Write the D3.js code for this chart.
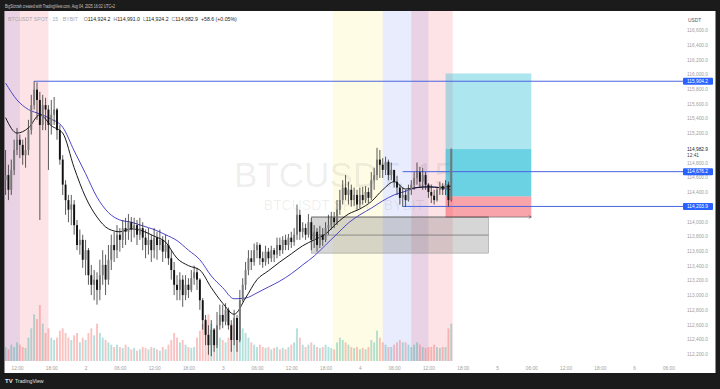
<!DOCTYPE html>
<html>
<head>
<meta charset="utf-8">
<script src="https://cdn.jsdelivr.net/npm/d3@7/dist/d3.min.js"></script>
<style>
  html, body { margin: 0; padding: 0; background: #1b1b1b; }
  svg { display: block; font-family: "Liberation Sans", Arial, sans-serif; }
</style>
</head>
<body>
<svg id="chart" width="720" height="389"></svg>
<script>
// ---- data (30 min candles, BTCUSDT spot, times in chart timezone) ----
const firstCandle = '2025-08-01T10:00:00Z';
const candleMinutes = 30;
const firstOpen = 114560;
const closes = [
  114630,114430,114700,114970,115110,115040,114900,114970,115240,115580,
  115790,115650,115310,115580,115520,115310,115450,115520,115240,114840,
  114500,114290,114160,114230,113950,113680,113750,113480,113610,113270,
  113140,113210,113070,113270,113410,113210,113480,113680,113610,113820,
  113750,113910,113860,113990,113890,113950,113820,113910,113780,113680,
  113750,113610,113780,113680,113750,113590,113680,113500,113340,113140,
  113070,113210,113000,113140,113070,113230,113310,113210,112930,112660,
  112460,112320,112530,112320,112590,112730,112640,112800,112590,112390,
  112690,112390,112930,113140,113340,113500,113450,113610,113680,113500,
  113450,113590,113500,113610,113550,113680,113610,113750,113680,113780,
  113720,113820,114090,113860,113910,113820,113990,113750,113860,113680,
  113820,113750,113910,113950,114050,113990,114160,114290,114460,114360,
  114430,114290,114360,114230,114360,114290,114400,114320,114560,114630,
  114840,114770,114700,114810,114630,114700,114540,114460,114320,114360,
  114290,114430,114500,114590,114670,114540,114630,114500,114400,114350,
  114290,114430,114480,114430,114500,114290,114982.9
];
const highs = [
  114970,114770,114840,115110,115270,115180,115110,115140,115380,115720,
  115904.2,115890,115760,115720,115680,115580,115650,115690,115540,115310,
  114900,114560,114360,114360,114290,114020,113890,113820,113750,113640,
  113410,113340,113310,113480,113610,113550,113680,113820,113860,113950,
  113910,114020,114050,114100,114060,114050,114020,114050,113990,113890,
  113910,113820,113910,113860,113890,113800,113820,113750,113610,113450,
  113270,113310,113270,113270,113230,113340,113400,113370,113230,112960,
  112730,112590,112660,112550,112770,112870,112870,112890,112830,112660,
  112800,112730,113070,113230,113450,113610,113610,113700,113720,113700,
  113590,113670,113640,113670,113640,113780,113780,113800,113820,113830,
  113860,113910,114230,114160,113990,113970,114100,114050,113950,113910,
  113940,113910,113990,114090,114130,114130,114290,114430,114560,114630,
  114540,114500,114460,114430,114460,114470,114480,114460,114670,114730,
  115000,114970,114860,114880,114840,114800,114700,114620,114500,114460,
  114430,114500,114560,114670,114800,114740,114730,114670,114520,114500,
  114430,114470,114540,114520,114560,114540,114991
];
const lows = [
  114360,114290,114360,114630,114900,114860,114770,114730,114900,115180,
  115520,115380,114020,115240,115240,114700,115180,115310,115110,114770,
  114360,114090,113990,113950,113820,113610,113550,113370,113270,113140,
  113000,112930,112870,112930,113140,113000,113140,113340,113450,113500,
  113590,113640,113680,113750,113720,113780,113680,113750,113610,113500,
  113550,113450,113500,113480,113610,113450,113500,113410,113210,113000,
  112930,112930,112840,112930,112960,113040,113140,113070,112800,112530,
  112320,112190,112170,112230,112280,112530,112550,112590,112530,112230,
  112320,112230,112360,112910,113070,113270,113340,113400,113500,113410,
  113370,113400,113420,113450,113450,113500,113530,113560,113610,113610,
  113640,113670,113750,113750,113780,113750,113780,113610,113640,113590,
  113640,113670,113720,113820,113890,113910,113950,114090,114230,114290,
  114230,114200,114210,114160,114180,114230,114250,114250,114290,114430,
  114560,114590,114590,114630,114560,114560,114460,114360,114230,114200,
  114200,114270,114360,114430,114500,114460,114430,114430,114320,114250,
  114230,114270,114360,114360,114360,114203.9,114270
];
const volumes = [
  300,250,350,300,400,350,300,280,500,700,
  1000,900,1200,800,600,700,500,450,500,650,
  700,600,500,450,550,600,400,500,450,600,
  700,550,800,600,500,450,400,350,300,350,
  300,280,350,300,250,280,220,250,300,280,
  250,300,280,250,220,300,250,350,450,600,
  500,400,450,350,300,280,300,500,650,800,
  900,1000,800,700,600,500,450,400,500,800,
  700,900,1100,700,600,500,400,350,300,350,
  300,280,300,250,280,300,250,280,250,300,
  350,400,700,500,350,300,350,400,350,300,
  280,300,350,300,280,250,400,500,450,400,
  350,300,280,300,250,280,250,300,450,400,
  650,500,400,350,300,300,350,400,450,400,
  400,350,300,350,400,350,300,280,300,300,
  350,300,280,300,300,700,800
];

// moving averages read every 2 hours from the first candle
const maStepHours = 2;
const emaFast = [
  115410,115200,115270,115450,115300,115200,114730,114330,114060,113900,
  113860,113900,113870,113800,113720,113500,113400,113340,113100,112890,
  112740,112960,113210,113330,113450,113560,113670,113750,113830,113980,
  114100,114170,114270,114430,114540,114440,114460,114470,114460,114480
];
const emaSlow = [
  115880,115650,115520,115460,115390,115280,114960,114650,114330,114120,
  114020,113990,113940,113890,113820,113740,113610,113480,113260,113100,
  112950,112960,113030,113110,113190,113290,113410,113530,113680,113830,
  113980,114090,114180,114280,114360,114410,114460,114470,114460,114430
];

// session highlights
const sessionStarts = ['2025-08-01T04:00:00Z','2025-08-01T09:00:00Z','2025-08-03T19:15:00Z','2025-08-04T04:00:00Z','2025-08-04T09:00:00Z'];
const sessionEnds   = ['2025-08-01T12:30:00Z','2025-08-01T17:30:00Z','2025-08-04T04:00:00Z','2025-08-04T12:00:00Z','2025-08-04T16:15:00Z'];
const sessionKinds  = ['london','newyork','asia','london','newyork'];

// horizontal levels
const levelPrices = [115904.2, 114676.2, 114203.9];
const levelStarts = ['2025-08-01T15:00:00Z','2025-08-04T07:30:00Z','2025-08-04T07:30:00Z'];

// long position tool
const posFrom = '2025-08-04T15:00:00Z', posTo = '2025-08-05T06:00:00Z';
const posEntry = 114340, posStop = 114060, posTarget = 116010, lastPrice = 114982.9;

// grey zone boxes
const boxFrom = '2025-08-03T15:30:00Z', boxTo = '2025-08-04T22:30:00Z';
const boxTop = 114060, boxMid = 113815, boxBottom = 113570;

const priceTicks = d3.range(112200, 116601, 200);

// ---- layout ----
const svg = d3.select('#chart');
const W = 720, H = 389;
const pane = { left: 4.5, right: 683, top: 11, bottom: 361 };

const t0 = new Date(firstCandle);
const candles = closes.map((c, i) => ({
  t: new Date(t0.getTime() + i * candleMinutes * 60000),
  o: i === 0 ? firstOpen : closes[i - 1],
  h: highs[i], l: lows[i], c: c, v: volumes[i]
}));

const x = d3.scaleUtc()
  .domain([new Date('2025-08-01T12:00:00Z'), new Date('2025-08-05T00:00:00Z')])
  .range([17, 497]);
const y = d3.scaleLinear().domain([112200, 116600]).range([354, 30]);
const yv = d3.scaleLinear().domain([0, 1500]).range([361, 291]);

// frame
svg.append('rect').attr('width', W).attr('height', H).attr('fill', '#1b1b1b');
svg.append('rect').attr('x', 4.5).attr('y', 11).attr('width', 711).attr('height', 362).attr('fill', '#ffffff');

svg.append('text').attr('x', 5).attr('y', 7.5)
  .attr('font-size', 4.6).attr('fill', '#c8c8c8')
  .attr('textLength', 110).attr('lengthAdjust', 'spacingAndGlyphs')
  .text('BigStizzah created with TradingView.com, Aug 04, 2025 16:02 UTC+2');

svg.append('clipPath').attr('id', 'plot')
  .append('rect').attr('x', pane.left).attr('y', pane.top)
  .attr('width', pane.right - pane.left).attr('height', pane.bottom - pane.top);
const plot = svg.append('g').attr('clip-path', 'url(#plot)');

// session bands
const sessionFill = { london: 'rgba(66,100,240,0.12)', newyork: 'rgba(242,54,69,0.14)', asia: 'rgba(255,232,59,0.13)' };
plot.selectAll('rect.session').data(sessionKinds).join('rect')
  .attr('class', 'session')
  .attr('x', (d, i) => x(new Date(sessionStarts[i])))
  .attr('width', (d, i) => x(new Date(sessionEnds[i])) - x(new Date(sessionStarts[i])))
  .attr('y', pane.top).attr('height', pane.bottom - pane.top)
  .attr('fill', d => sessionFill[d]);

// watermark
plot.append('text').attr('x', 344).attr('y', 187).attr('text-anchor', 'middle')
  .attr('font-size', 35).attr('fill', 'rgba(0,0,0,0.075)').text('BTCUSDT, 15');
plot.append('text').attr('x', 344).attr('y', 210).attr('text-anchor', 'middle')
  .attr('font-size', 14).attr('fill', 'rgba(0,0,0,0.075)').text('BTCUSDT SPOT · BYBIT');

// volume
const bw = 1.9;
plot.selectAll('rect.vol').data(candles).join('rect')
  .attr('class', 'vol')
  .attr('x', d => x(d.t) - bw / 2).attr('width', bw)
  .attr('y', d => yv(d.v)).attr('height', d => yv(0) - yv(d.v))
  .attr('fill', d => d.c >= d.o ? 'rgba(38,166,154,0.35)' : 'rgba(239,83,80,0.35)');

// grey zone
const bx0 = x(new Date(boxFrom)), bx1 = x(new Date(boxTo));
plot.append('rect').attr('x', bx0).attr('y', y(boxTop)).attr('width', bx1 - bx0)
  .attr('height', y(boxBottom) - y(boxTop))
  .attr('fill', 'rgba(120,120,120,0.3)').attr('stroke', '#9a9a9a').attr('stroke-width', 0.6);
plot.append('line').attr('x1', bx0).attr('x2', bx1).attr('y1', y(boxTop)).attr('y2', y(boxTop))
  .attr('stroke', '#555').attr('stroke-width', 0.7);
plot.append('line').attr('x1', bx0).attr('x2', bx1).attr('y1', y(boxMid)).attr('y2', y(boxMid))
  .attr('stroke', '#6a6a6a').attr('stroke-width', 0.7);

// position tool
const px0 = x(new Date(posFrom)), px1 = x(new Date(posTo));
plot.append('rect').attr('x', px0).attr('width', px1 - px0)
  .attr('y', y(posTarget)).attr('height', y(lastPrice) - y(posTarget))
  .attr('fill', 'rgba(8,180,210,0.33)');
plot.append('rect').attr('x', px0).attr('width', px1 - px0)
  .attr('y', y(lastPrice)).attr('height', y(posEntry) - y(lastPrice))
  .attr('fill', 'rgba(8,180,210,0.6)');
plot.append('rect').attr('x', px0).attr('width', px1 - px0)
  .attr('y', y(posEntry)).attr('height', y(posStop) - y(posEntry))
  .attr('fill', 'rgba(242,54,69,0.45)');
plot.append('line').attr('x1', px0).attr('x2', px1).attr('y1', y(posStop)).attr('y2', y(posStop))
  .attr('stroke', '#666').attr('stroke-width', 0.7);
plot.append('path')
  .attr('d', `M${px1 - 2.5},${y(posStop) - 1.5}L${px1},${y(posStop)}L${px1 - 2.5},${y(posStop) + 1.5}`)
  .attr('fill', 'none').attr('stroke', '#666').attr('stroke-width', 0.7);

// horizontal levels
plot.selectAll('line.level').data(levelPrices).join('line')
  .attr('class', 'level')
  .attr('x1', (d, i) => x(new Date(levelStarts[i]))).attr('x2', pane.right)
  .attr('y1', d => y(d)).attr('y2', d => y(d))
  .attr('stroke', '#4a64e0').attr('stroke-width', 1);

// moving averages
const maPoint = (v, i) => [x(new Date(t0.getTime() + i * maStepHours * 3600000)), y(v)];
const lineGen = d3.line().curve(d3.curveMonotoneX);
plot.append('path').attr('d', lineGen(emaSlow.map(maPoint)))
  .attr('fill', 'none').attr('stroke', '#4d47c9').attr('stroke-width', 1);
plot.append('path').attr('d', lineGen(emaFast.map(maPoint)))
  .attr('fill', 'none').attr('stroke', '#1a1a1a').attr('stroke-width', 1);

// candles
plot.selectAll('line.wick').data(candles).join('line')
  .attr('class', 'wick')
  .attr('x1', d => x(d.t)).attr('x2', d => x(d.t))
  .attr('y1', d => y(d.h)).attr('y2', d => y(d.l))
  .attr('stroke', '#151515').attr('stroke-width', 0.7);
plot.selectAll('rect.body').data(candles).join('rect')
  .attr('class', 'body')
  .attr('x', d => x(d.t) - bw / 2).attr('width', bw)
  .attr('y', d => y(Math.max(d.o, d.c)))
  .attr('height', d => Math.max(0.8, Math.abs(y(d.o) - y(d.c))))
  .attr('fill', d => d.c >= d.o ? '#777' : '#111');

// legend line
const legend = svg.append('text').attr('x', 8).attr('y', 20.5).attr('font-size', 5.2);
legend.append('tspan').attr('fill', '#a8a8b0').text('BTCUSDT SPOT · 15 · BYBIT');
[['O', '114,924.2'], ['H', '114,991.0'], ['L', '114,924.2'], ['C', '114,982.9']].forEach(([k, v], i) => {
  legend.append('tspan').attr('dx', i === 0 ? 6 : 3).attr('fill', '#777').text(k);
  legend.append('tspan').attr('fill', '#222').text(v);
});
legend.append('tspan').attr('dx', 3).attr('fill', '#222').text('+58.6 (+0.05%)');

// price axis
const yAxis = svg.append('g').attr('transform', `translate(${pane.right + 4},0)`)
  .call(d3.axisRight(y).tickValues(priceTicks).tickSize(0).tickFormat(d3.format(',.1f')));
yAxis.select('.domain').remove();
yAxis.selectAll('text').attr('font-size', 4.8).attr('fill', '#a0a0a0').attr('font-family', null).attr('x', 0);
svg.append('text').attr('x', 688).attr('y', 22).attr('font-size', 4.8).attr('fill', '#555').text('USDT');

// level labels
levelPrices.forEach(p => {
  svg.append('rect').attr('x', pane.right).attr('y', y(p) - 3.5).attr('width', 30).attr('height', 7)
    .attr('rx', 1).attr('fill', '#2962ff');
  svg.append('text').attr('x', pane.right + 4).attr('y', y(p) + 1.7).attr('font-size', 4.8)
    .attr('fill', '#fff').text(d3.format(',.1f')(p));
});
svg.append('rect').attr('x', pane.right + 1).attr('y', y(lastPrice) - 4).attr('width', 29).attr('height', 12).attr('fill', '#fff');
svg.append('text').attr('x', pane.right + 4).attr('y', y(lastPrice) + 1.7).attr('font-size', 4.8)
  .attr('fill', '#222').text(d3.format(',.1f')(lastPrice));
svg.append('text').attr('x', pane.right + 4).attr('y', y(lastPrice) + 7.7).attr('font-size', 4.8)
  .attr('fill', '#444').text('12:41');

// time axis
const xAxis = svg.append('g').attr('transform', `translate(0,${pane.bottom + 3})`)
  .call(d3.axisBottom(x)
    .tickValues(d3.utcHour.every(6).range(new Date('2025-08-01T12:00:00Z'), new Date('2025-08-06T06:01:00Z')))
    .tickSize(0)
    .tickFormat(d => d.getUTCHours() === 0 ? d3.utcFormat('%-d')(d) : d3.utcFormat('%H:%M')(d)));
xAxis.select('.domain').remove();
xAxis.selectAll('text').attr('font-size', 4.8).attr('fill', '#a0a0a0').attr('font-family', null);

// footer logo
svg.append('text').attr('x', 5).attr('y', 383).attr('font-size', 6).attr('font-weight', 'bold')
  .attr('fill', '#e8e8e8').text('TV');
svg.append('text').attr('x', 15).attr('y', 383).attr('font-size', 5.2)
  .attr('fill', '#e0e0e0').text('TradingView');
</script>
</body>
</html>
